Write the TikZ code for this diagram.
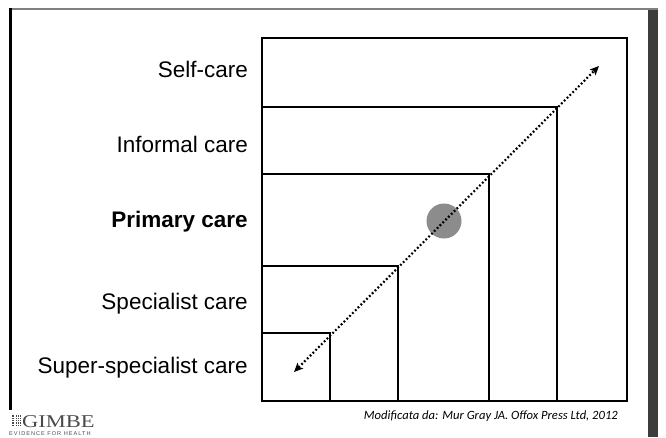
\documentclass[tikz,border=0pt]{standalone}
\usepackage{fontspec}
\setmainfont{Liberation Sans}
\newfontfamily\carlito{Carlito}
\newfontfamily\serifwide[FakeStretch=1.25]{Liberation Serif}
\newfontfamily\tagfont[LetterSpace=18]{Liberation Sans}
\usetikzlibrary{arrows.meta}
\definecolor{circlegray}{HTML}{8C8C8C}
\definecolor{bargray}{HTML}{3C3C3C}
\definecolor{logogray}{HTML}{4A4A4A}
\tikzset{
  carebox/.style={draw=black, line width=2.9pt},
  carelabel/.style={anchor=base east, inner sep=0pt, font=\fontsize{22.5}{27}\selectfont},
  flowarrow/.style={line width=2.2pt, dash pattern=on 1.8pt off 2.2pt,
    {Stealth[length=9pt,width=8pt,inset=2pt]}-{Stealth[length=9pt,width=8pt,inset=2pt]}},
}
\begin{document}
\begin{tikzpicture}[x=1pt,y=-1pt]
\useasboundingbox (0,0) rectangle (666,437);
% slide frame
\fill[bargray] (648,8) rectangle (658,437);
\draw[gray, line width=2pt] (9,8.5) -- (658,8.5);
\draw[black, line width=3pt] (10.5,8) -- (10.5,410);
% boxes
\draw[carebox] (262,38) rectangle (627,401);
\draw[carebox] (262,107) rectangle (557,401);
\draw[carebox] (262,174) rectangle (489,401);
\draw[carebox] (262,266) rectangle (398,401);
\draw[carebox] (262,333) rectangle (330,401);
% labels
\node[carelabel] (self) at (248,77) {Self-care};
\node[carelabel] (informal) at (248,152) {Informal care};
\node[carelabel] (primary) at (248,227) {\bfseries Primary care};
\node[carelabel] (specialist) at (248,309) {Specialist care};
\node[carelabel] (super) at (248,373) {Super-specialist care};
% circle
\node[circle, fill=circlegray, minimum size=35pt, inner sep=0pt] (dot) at (444,221) {};
% arrow
\coordinate (lo) at (294,372);
\coordinate (hi) at (599,66);
\draw[flowarrow] (lo) -- (hi);
% footer
\node[anchor=base east, inner sep=0pt, font=\carlito\itshape\fontsize{12.6}{14}\selectfont] (src) at (618,419) {Modificata da: Mur Gray JA. Offox Press Ltd, 2012};
% logo
\fill[logogray] (12,415) rectangle (21,426);
\foreach \i in {1,...,4}{
  \draw[white, line width=0.5pt] (12,{415+2.2*\i}) -- (21,{415+2.2*\i});
  \draw[white, line width=0.5pt] ({12+1.8*\i},415) -- ({12+1.8*\i},426);
}
\node[anchor=base west, inner sep=0pt, text=logogray, font=\serifwide\fontsize{18}{18}\selectfont] (gimbe) at (22,427) {GIMBE};
\node[anchor=base west, inner sep=0pt, text=logogray, font=\tagfont\fontsize{5.6}{6}\selectfont] (tag) at (9,435.5) {EVIDENCE FOR HEALTH};
\end{tikzpicture}
\end{document}
